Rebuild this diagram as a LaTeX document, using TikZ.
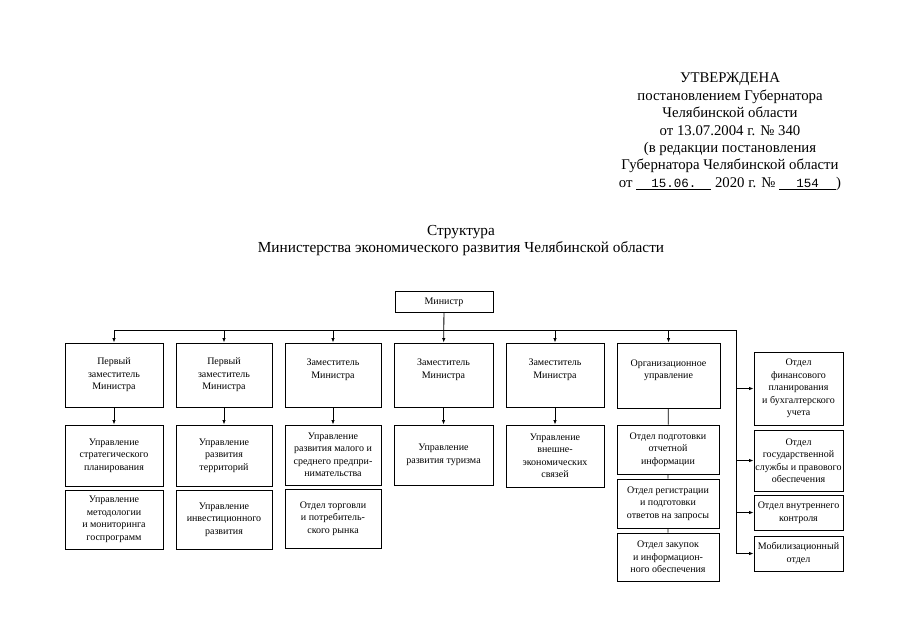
\documentclass[tikz,border=0pt]{standalone}
\usepackage{fontspec}
\setmainfont{Liberation Serif}
\newfontfamily\typewr{Liberation Mono}
\usetikzlibrary{arrows.meta}

\tikzset{
  unit/.style={draw, line width=0.9pt, align=center, inner sep=1pt,
    font=\fontsize{10}{12.5}\selectfont},
  link/.style={line width=0.8pt},
  arr/.style={link, -{Latex[length=4.5pt,width=3.5pt]}}
}

\begin{document}
\begin{tikzpicture}[x=1pt,y=-1pt]
  \useasboundingbox (0,0) rectangle (905,640);
  % approval stamp and title
  \node[anchor=north, align=center, inner sep=0pt, font=\fontsize{14.8}{17.4}\selectfont] (approved) at (730,73)
    {УТВЕРЖДЕНА\\постановлением Губернатора\\Челябинской области\\от 13.07.2004 г. № 340\\(в редакции постановления\\Губернатора Челябинской области\\от \underline{\makebox[75pt]{\typewr\fontsize{12.5}{12.5}\selectfont 15.06.}} 2020 г. № \underline{\makebox[57pt]{\typewr\fontsize{12.5}{12.5}\selectfont 154}})};
  \node[anchor=north, align=center, inner sep=0pt, font=\fontsize{15.3}{17.4}\selectfont] (title) at (461,225)
    {Структура\\Министерства экономического развития Челябинской области};

  \node[unit, minimum width=98pt, minimum height=21pt] (minister) at (444,302) {Министр};

  % first level
  \node[unit, minimum width=98pt, minimum height=64pt] (dep1) at (114,375) {Первый\\заместитель\\Министра};
  \node[unit, minimum width=96pt, minimum height=64pt] (dep2) at (224,375) {Первый\\заместитель\\Министра};
  \node[unit, minimum width=96pt, minimum height=64pt] (dep3) at (333,375) {Заместитель\\Министра\\~};
  \node[unit, minimum width=99pt, minimum height=64pt] (dep4) at (443.5,375) {Заместитель\\Министра\\~};
  \node[unit, minimum width=98pt, minimum height=64pt] (dep5) at (555,375) {Заместитель\\Министра\\~};
  \node[unit, minimum width=103pt, minimum height=65pt] (dep6) at (668.5,375.5) {Организационное\\управление\\~};

  % second level
  \node[unit, minimum width=98pt, minimum height=61pt] (div1a) at (114,455.5) {Управление\\стратегического\\планирования};
  \node[unit, minimum width=98pt, minimum height=59pt] (div1b) at (114,519.5) {Управление\\методологии\\и мониторинга\\госпрограмм};
  \node[unit, minimum width=96pt, minimum height=61pt] (div2a) at (224,455.5) {Управление\\развития\\территорий};
  \node[unit, minimum width=96pt, minimum height=59pt] (div2b) at (224,519.5) {Управление\\инвестиционного\\развития};
  \node[unit, minimum width=96pt, minimum height=60pt] (div3a) at (333,455) {Управление\\развития малого и\\среднего предпри-\\нимательства};
  \node[unit, minimum width=96pt, minimum height=59pt] (div3b) at (333,518.5) {Отдел торговли\\и потребитель-\\ского рынка};
  \node[unit, minimum width=99pt, minimum height=60pt] (div4a) at (443.5,455) {Управление\\развития туризма};
  \node[unit, minimum width=98pt, minimum height=62pt] (div5a) at (555,456) {Управление\\внешне-\\экономических\\связей};
  \node[unit, minimum width=102pt, minimum height=49pt] (org1) at (668,449.5) {Отдел подготовки\\отчетной\\информации};
  \node[unit, minimum width=102pt, minimum height=49pt] (org2) at (668,503.5) {Отдел регистрации\\и подготовки\\ответов на запросы};
  \node[unit, minimum width=102pt, minimum height=48pt] (org3) at (668,557) {Отдел закупок\\и информацион-\\ного обеспечения};

  % right column
  \node[unit, minimum width=89pt, minimum height=73pt] (sec1) at (798.5,388.5) {Отдел\\финансового\\планирования\\и бухгалтерского\\учета};
  \node[unit, minimum width=89pt, minimum height=61pt] (sec2) at (798.5,460.5) {Отдел\\государственной\\службы и правового\\обеспечения};
  \node[unit, minimum width=89pt, minimum height=35pt] (sec3) at (798.5,512.5) {Отдел внутреннего\\контроля};
  \node[unit, minimum width=89pt, minimum height=35pt] (sec4) at (798.5,553.5) {Мобилизационный\\отдел};

  % connectors
  \coordinate (bus) at (0,330);
  \coordinate (busR) at (736,330);
  \draw[link] (dep1.north |- bus) -- (busR) -- (busR |- sec4.west);
  \draw[arr] (minister) -- (dep4);
  \foreach \d in {dep1,dep2,dep3,dep5,dep6}
    \draw[arr] (\d.north |- bus) -- (\d.north);
  \foreach \s in {sec1,sec2,sec3,sec4}
    \draw[arr] (busR |- \s.west) -- (\s.west);
  \foreach \a/\b in {dep1/div1a,dep2/div2a,dep3/div3a,dep4/div4a,dep5/div5a}
    \draw[arr] (\a) -- (\b);
  \draw[link] (dep6) -- (org1) (org1) -- (org2) (org2) -- (org3);
\end{tikzpicture}
\end{document}
